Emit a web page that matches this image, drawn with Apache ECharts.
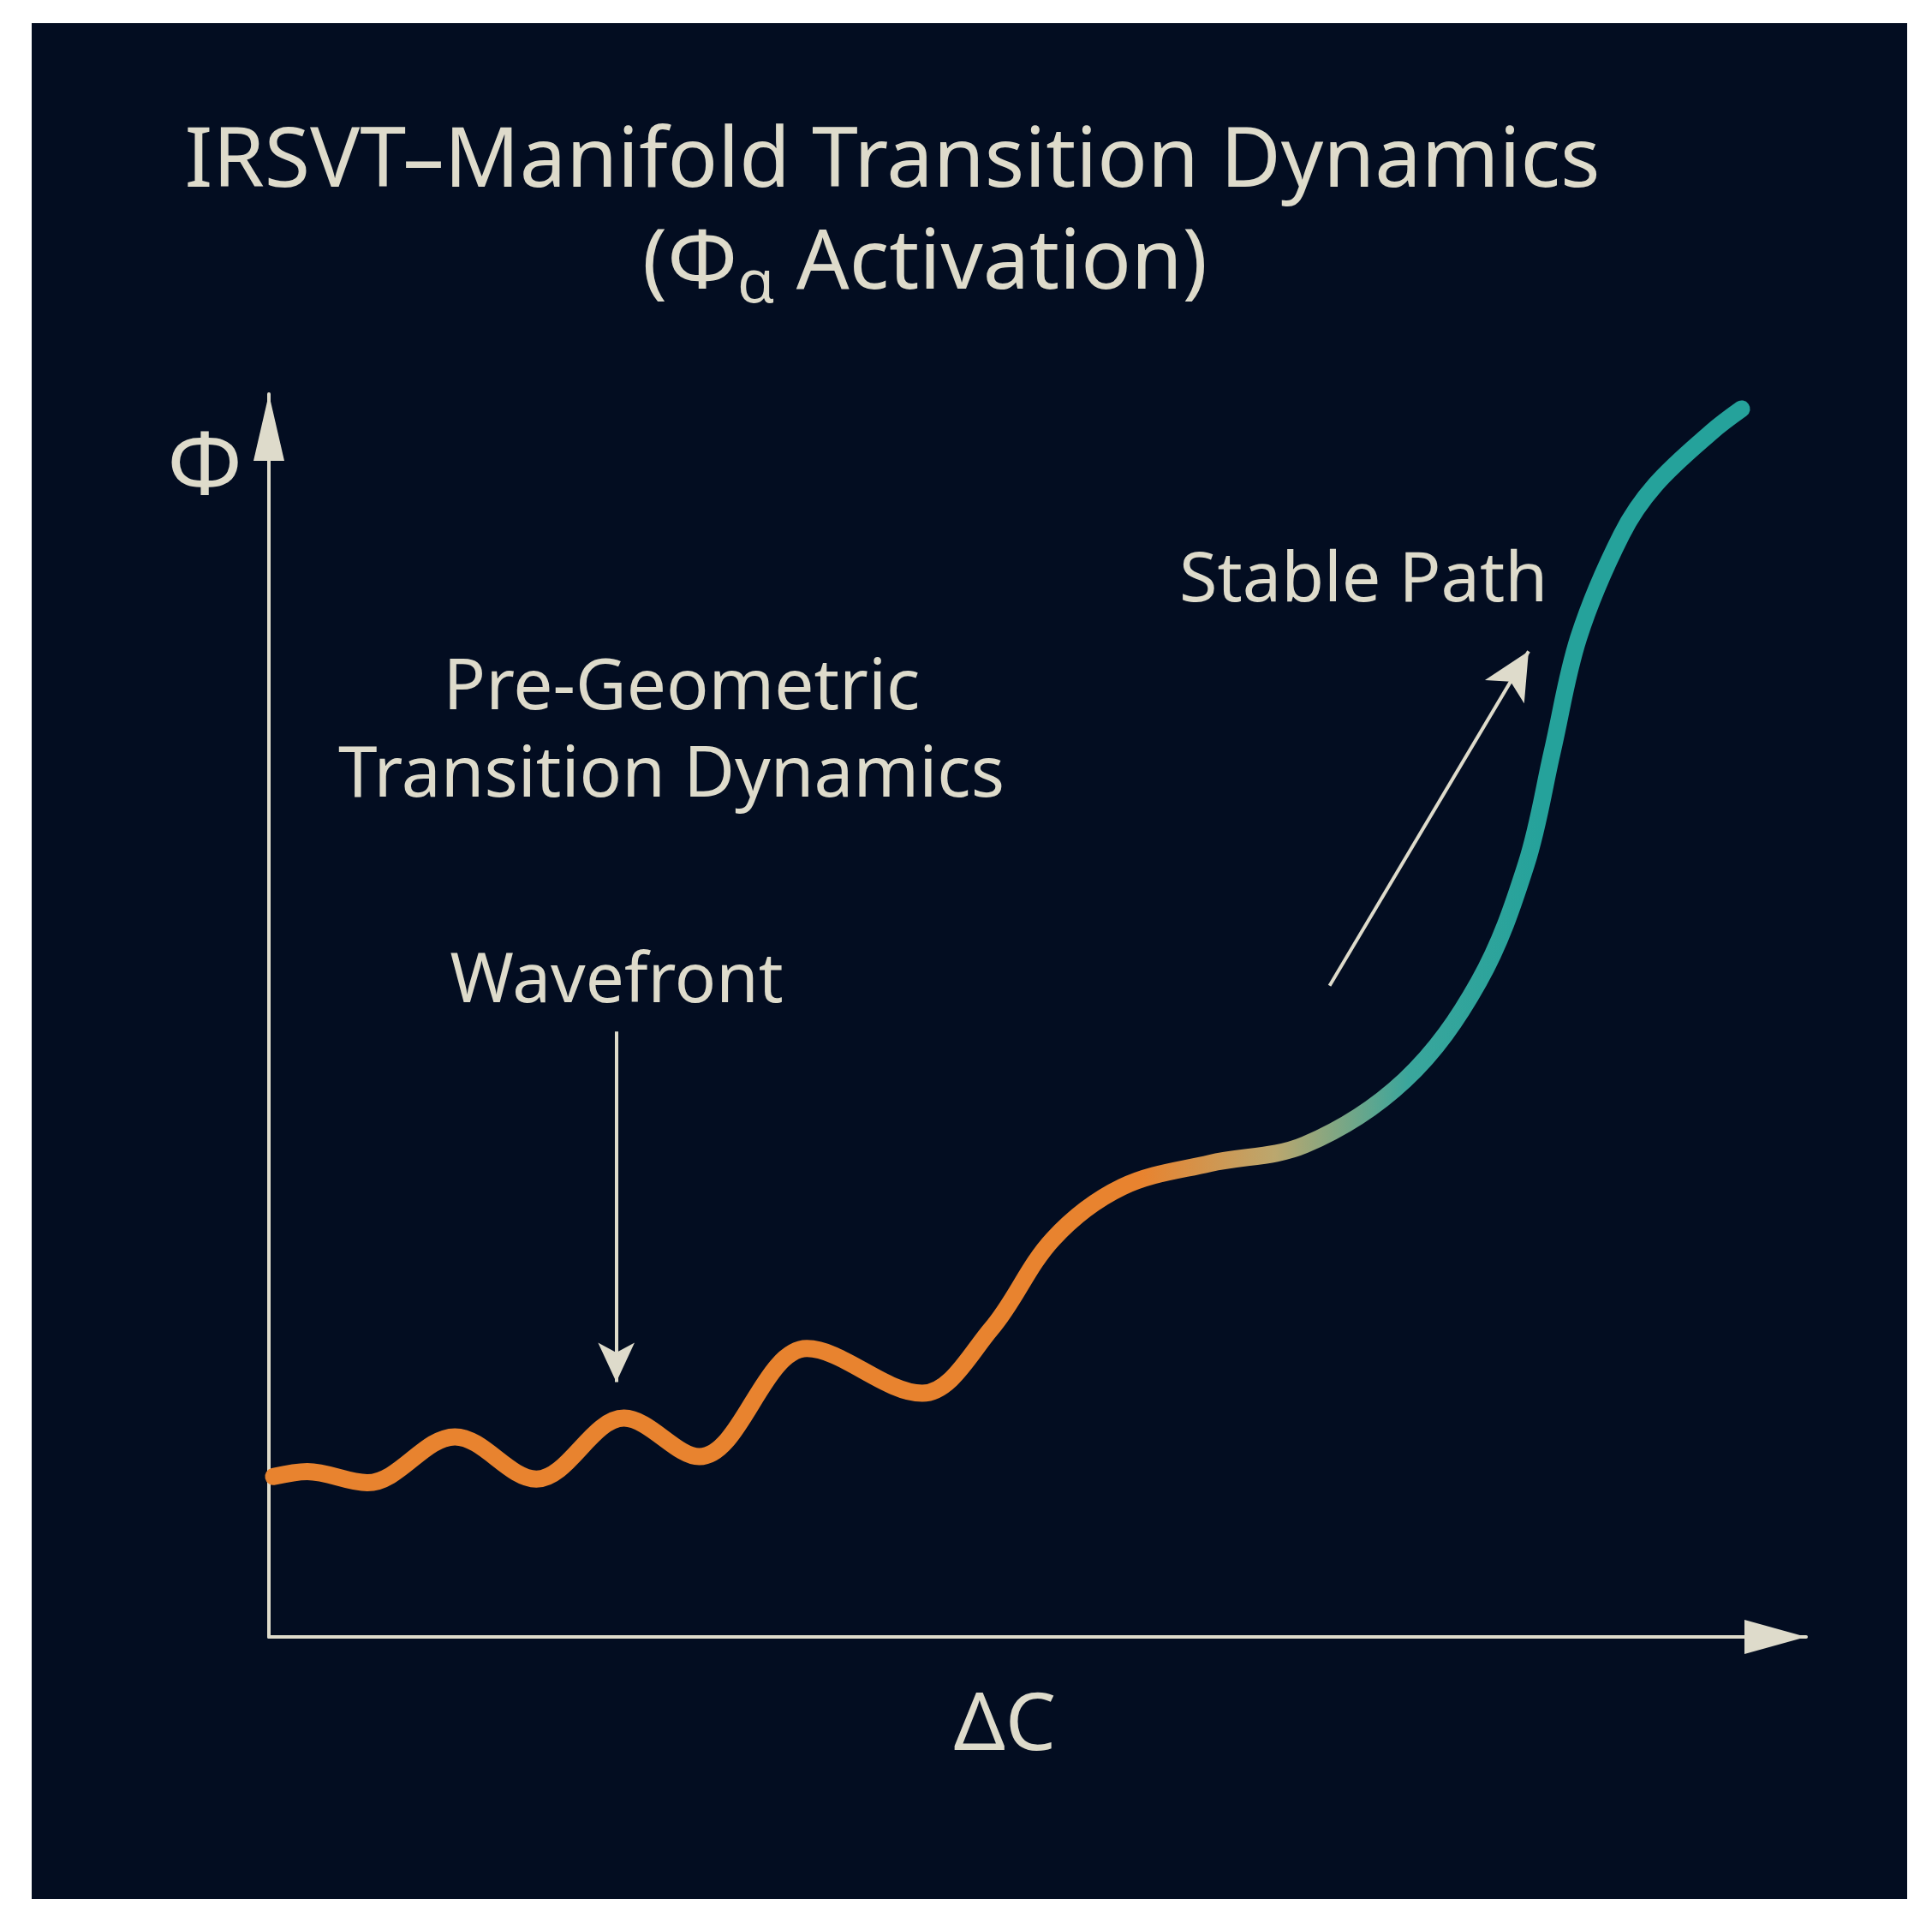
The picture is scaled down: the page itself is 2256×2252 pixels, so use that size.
<!DOCTYPE html>
<html>
<head>
<meta charset="utf-8">
<script src="https://cdn.jsdelivr.net/npm/echarts@6/dist/echarts.min.js"></script>
<style>
  html, body { margin: 0; padding: 0; background: #ffffff; }
  #chart { width: 2256px; height: 2252px; }
</style>
</head>
<body>
<div id="chart"></div>
<script>
// ---- data ----
const titleLine1 = 'IRSVT–Manifold Transition Dynamics';
const titleLine2 = '(Φ{sub|α} Activation)';
const xAxisName = 'ΔC';
const yAxisName = 'Φ';
const deltaC = [0.3, 2.5, 6.4, 12.1, 17.4, 23.1, 28.0, 35.0, 42.5,
  47.0, 51.0, 55.5, 61.2, 67.4, 73.9, 78.7, 81.8, 83.5, 85.2, 88.0, 90.2, 93.9, 95.8];
const phiValues = [12.9, 13.3, 12.4, 16.1, 12.7, 17.6, 14.5, 23.2, 19.6,
  24.8, 32.0, 36.2, 38.1, 39.6, 44.8, 52.7, 62.2, 71.3, 80.4, 88.7, 92.7, 97.0, 98.8];
const annotationTexts = ['Pre-Geometric', 'Transition Dynamics', 'Wavefront', 'Stable Path'];

// ---- styles ----
const BG = '#030d21';
const INK = '#dedbcb';
const ORANGE = '#e8832f';
const TEAL = '#25a29b';
const FONT = '"Noto Sans", "Open Sans", sans-serif';

const chart = echarts.init(document.getElementById('chart'), null, { renderer: 'canvas' });

const seriesData = deltaC.map((x, i) => [x, phiValues[i]]);

const option = {
  backgroundColor: '#ffffff',
  animation: false,
  title: [
    {
      text: titleLine1, left: 1042, top: 130, textAlign: 'center', padding: 0,
      textStyle: { color: INK, fontFamily: FONT, fontSize: 97, fontWeight: 'normal', lineHeight: 120 }
    },
    {
      text: titleLine2, left: 1080, top: 250, textAlign: 'center', padding: 0,
      textStyle: {
        color: INK, fontFamily: FONT, fontSize: 97, fontWeight: 'normal', lineHeight: 118,
        rich: {
          sub: { color: INK, fontFamily: FONT, fontSize: 70, lineHeight: 118, verticalAlign: 'bottom' }
        }
      }
    }
  ],
  grid: { left: 314, right: 147, top: 460, bottom: 341, containLabel: false },
  xAxis: {
    type: 'value', min: 0, max: 100,
    name: xAxisName, nameLocation: 'middle', nameGap: 58,
    nameTextStyle: { color: INK, fontFamily: FONT, fontSize: 94, padding: [0, 76, 0, 0] },
    axisLine: { show: true, onZero: false, symbol: ['none', 'triangle'], symbolSize: [40, 72], symbolOffset: [0, -36],
      lineStyle: { color: INK, width: 4 } },
    axisTick: { show: false }, axisLabel: { show: false }, splitLine: { show: false }
  },
  yAxis: {
    type: 'value', min: 0, max: 100,
    name: yAxisName, nameLocation: 'end', nameGap: -140,
    nameTextStyle: { color: INK, fontFamily: FONT, fontSize: 104, padding: [0, 150, 0, 0], align: 'center', verticalAlign: 'bottom' },
    axisLine: { show: true, onZero: false, symbol: ['none', 'triangle'], symbolSize: [36, 78], symbolOffset: [0, -39],
      lineStyle: { color: INK, width: 4 } },
    axisTick: { show: false }, axisLabel: { show: false }, splitLine: { show: false }
  },
  graphic: [
    { type: 'rect', z: -100, silent: true, shape: { x: 37, y: 27, width: 2190, height: 2190 }, style: { fill: BG } },
    { type: 'text', x: 796, y: 805, silent: true,
      style: { text: annotationTexts[0], fill: INK, font: '82px ' + FONT, textAlign: 'center', textVerticalAlign: 'middle' } },
    { type: 'text', x: 784, y: 907, silent: true,
      style: { text: annotationTexts[1], fill: INK, font: '82px ' + FONT, textAlign: 'center', textVerticalAlign: 'middle' } },
    { type: 'text', x: 720, y: 1147, silent: true,
      style: { text: annotationTexts[2], fill: INK, font: '80px ' + FONT, textAlign: 'center', textVerticalAlign: 'middle' } },
    { type: 'text', x: 1377, y: 679, silent: true,
      style: { text: annotationTexts[3], fill: INK, font: '81px ' + FONT, textAlign: 'left', textVerticalAlign: 'middle' } }
  ],
  series: [
    {
      type: 'line',
      data: seriesData,
      smooth: 0.35,
      showSymbol: false,
      clip: false,
      lineStyle: {
        width: 20,
        cap: 'round',
        join: 'round',
        color: new echarts.graphic.LinearGradient(0, 0, 1, 0, [
          { offset: 0, color: ORANGE },
          { offset: 0.59, color: ORANGE },
          { offset: 0.68, color: '#bba76e' },
          { offset: 0.77, color: '#3aa69c' },
          { offset: 0.86, color: TEAL },
          { offset: 1, color: TEAL }
        ])
      },
      markLine: {
        silent: true,
        symbol: ['none', 'arrow'],
        label: { show: false },
        animation: false,
        lineStyle: { color: INK, width: 4, type: 'solid' },
        data: [
          [ { coord: [22.6, 48.7], symbolSize: 0 }, { coord: [22.6, 20.5], symbol: 'arrow', symbolSize: [32, 46] } ],
          [ { coord: [69.0, 52.4], symbolSize: 0 }, { coord: [81.95, 79.3], symbol: 'arrow', symbolSize: [40, 55] } ]
        ]
      }
    }
  ]
};

chart.setOption(option);
</script>
</body>
</html>
